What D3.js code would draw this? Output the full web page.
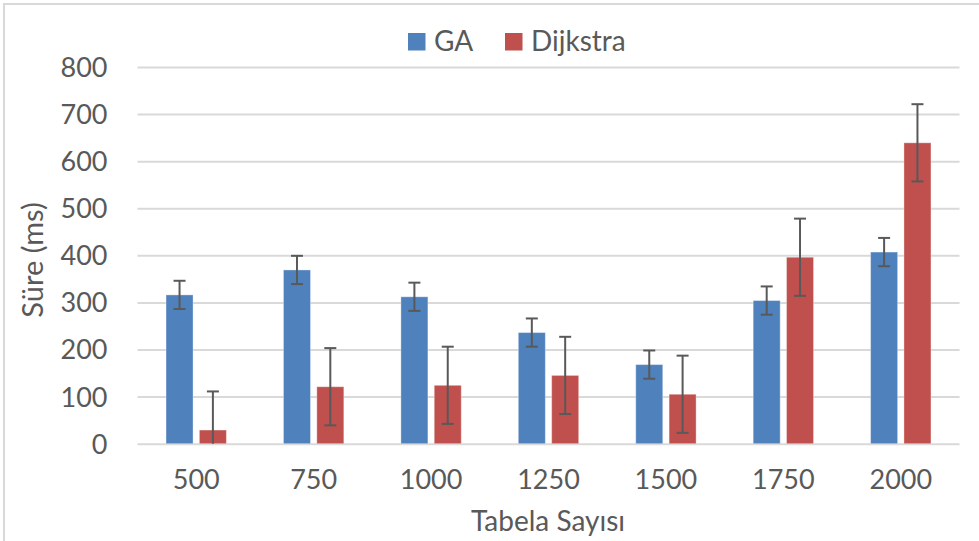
<!DOCTYPE html>
<html>
<head>
<meta charset="utf-8">
<script src="https://cdn.jsdelivr.net/npm/d3@7"></script>
<style>
  html, body { margin: 0; padding: 0; background: #ffffff; }
  svg { display: block; }
  text { font-family: Lato, "Open Sans", sans-serif; fill: #595959; }
</style>
</head>
<body>
<svg id="chart" width="979" height="541"></svg>
<script>
const categories = ["500", "750", "1000", "1250", "1500", "1750", "2000"];
const seriesNames = ["GA", "Dijkstra"];
const gaValues = [316, 369, 312, 236, 168, 304, 407];
const gaErrors = [30, 30, 30, 30, 30, 30, 30];
const dijkstraValues = [29, 121, 124, 145, 105, 396, 639];
const dijkstraErrors = [82, 82, 82, 82, 82, 82, 82];
const yTicks = [0, 100, 200, 300, 400, 500, 600, 700, 800];
const colors = ["#4f81bd", "#c0504d"];
const xTitle = "Tabela Sayısı";
const yTitle = "Süre (ms)";

const svg = d3.select("#chart");
const W = 979, H = 541;
const plot = { left: 137.5, right: 959.5, top: 67, bottom: 443.7 };

// outer border (top & left visible)
svg.append("path")
  .attr("d", `M4,${H} L4,4 L${W},4`)
  .attr("fill", "none")
  .attr("stroke", "#d9d9d9")
  .attr("stroke-width", 2);

const y = d3.scaleLinear().domain([0, 800]).range([plot.bottom, plot.top]);
const x0 = d3.scaleBand().domain(categories).range([plot.left, plot.right])
  .paddingInner(0.486).paddingOuter(0.243);
const x1 = d3.scaleBand().domain(seriesNames).range([0, x0.bandwidth()])
  .paddingInner(0.19).paddingOuter(0);

// gridlines
const yAxis = d3.axisLeft(y).tickValues(yTicks).tickSize(-(plot.right - plot.left)).tickPadding(30);
const gy = svg.append("g").attr("transform", `translate(${plot.left},0)`).call(yAxis);
gy.select(".domain").remove();
gy.selectAll(".tick line").attr("stroke", "#d9d9d9").attr("stroke-width", 2);
gy.selectAll(".tick text").attr("font-size", 27).attr("fill", "#595959").attr("dy", "0.35em");

// x axis
const xAxis = d3.axisBottom(x0).tickSize(0).tickPadding(26);
const gx = svg.append("g").attr("transform", `translate(0,${plot.bottom})`).call(xAxis);
gx.select(".domain").remove();
gx.selectAll(".tick text").attr("font-size", 27).attr("fill", "#595959");

const data = categories.map((c, i) => ({
  cat: c,
  vals: [
    { s: "GA", v: gaValues[i], e: gaErrors[i], color: colors[0] },
    { s: "Dijkstra", v: dijkstraValues[i], e: dijkstraErrors[i], color: colors[1] }
  ]
}));

const groups = svg.append("g").selectAll("g").data(data).join("g")
  .attr("transform", d => `translate(${x0(d.cat)},0)`);

groups.selectAll("rect").data(d => d.vals).join("rect")
  .attr("x", d => x1(d.s))
  .attr("width", x1.bandwidth())
  .attr("y", d => y(d.v))
  .attr("height", d => y(0) - y(d.v))
  .attr("fill", d => d.color)
  .attr("stroke", "#ffffff")
  .attr("stroke-opacity", 0.35)
  .attr("stroke-width", 1);

// error bars
const capW = 12;
const eb = groups.selectAll("g.err").data(d => d.vals).join("g").attr("class", "err");
eb.each(function(d) {
  const g = d3.select(this);
  const cx = x1(d.s) + x1.bandwidth() / 2;
  const hi = d.v + d.e, lo = Math.max(0, d.v - d.e);
  g.append("line").attr("x1", cx).attr("x2", cx).attr("y1", y(hi)).attr("y2", y(lo))
    .attr("stroke", "#595959").attr("stroke-width", 2);
  g.append("line").attr("x1", cx - capW / 2).attr("x2", cx + capW / 2).attr("y1", y(hi)).attr("y2", y(hi))
    .attr("stroke", "#595959").attr("stroke-width", 2);
  if (d.v - d.e > 0) {
    g.append("line").attr("x1", cx - capW / 2).attr("x2", cx + capW / 2).attr("y1", y(lo)).attr("y2", y(lo))
      .attr("stroke", "#595959").attr("stroke-width", 2);
  }
});

// axis titles
svg.append("text").attr("x", 548).attr("y", 531).attr("text-anchor", "middle")
  .attr("font-size", 28).text(xTitle);
svg.append("text").attr("transform", "translate(43,260) rotate(-90)").attr("text-anchor", "middle")
  .attr("font-size", 29).text(yTitle);

// legend
const legendItems = [
  { name: seriesNames[0], color: colors[0], x: 408, tx: 434 },
  { name: seriesNames[1], color: colors[1], x: 505, tx: 531 }
];
const lg = svg.append("g");
legendItems.forEach(it => {
  lg.append("rect").attr("x", it.x).attr("y", 33).attr("width", 17.5).attr("height", 17.5).attr("fill", it.color);
  lg.append("text").attr("x", it.tx).attr("y", 51).attr("font-size", 28).text(it.name);
});
</script>
</body>
</html>
